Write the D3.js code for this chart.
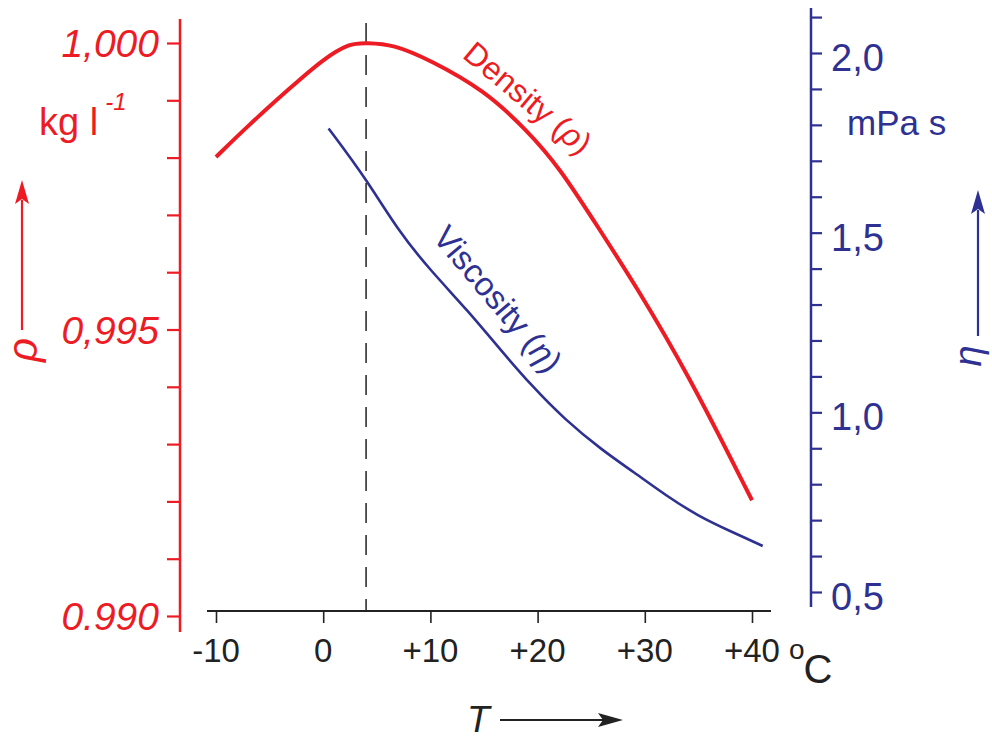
<!DOCTYPE html>
<html>
<head>
<meta charset="utf-8">
<script src="https://cdn.jsdelivr.net/npm/d3@7"></script>
<style>
  body { margin: 0; background: #fff; }
  svg { display: block; font-family: "Liberation Sans", Arial, sans-serif; }
</style>
</head>
<body>
<div id="chart"></div>
<script>
// temperature axis and the two curves
var tempTicks = [-10, 0, 10, 20, 30, 40];
var tempLabels = ["-10", "0", "+10", "+20", "+30", "+40"];

var densityT = [-10, -7, -3, 0, 2.5, 4, 6.5, 10, 15, 19, 22, 26, 29, 34, 40];
var densityRho = [0.99801, 0.99856, 0.99923, 0.99972, 1.0, 1.0, 0.99998, 0.9997, 0.99918, 0.99848, 0.99784, 0.99668, 0.99581, 0.99424, 0.99202];

var viscT = [0.5, 4, 7, 10, 13.5, 16.5, 19.5, 22.5, 26, 29, 32, 35, 38, 41];
var viscEta = [1.79, 1.65, 1.505, 1.395, 1.283, 1.175, 1.072, 0.981, 0.895, 0.833, 0.768, 0.711, 0.669, 0.628];

var rhoLabelValues = [1.0, 0.995, 0.99];
var rhoLabels = ["1,000", "0,995", "0.990"];
var etaLabelValues = [2.0, 1.5, 1.0, 0.5];
var etaLabels = ["2,0", "1,5", "1,0", "0,5"];

var maxDensityT = 4;

var width = 992,
  height = 741;
var red = "#ed1c24",
  blue = "#2e3192",
  dark = "#222";

var svg = d3
  .select("#chart")
  .append("svg")
  .attr("width", width)
  .attr("height", height);

//scales, pixel ranges match the reference
var x = d3.scaleLinear().domain([-10, 40]).range([216, 752]);
var yRho = d3.scaleLinear().domain([0.99, 1.0]).range([616, 43]);
var yEta = d3.scaleLinear().domain([0.5, 2.0]).range([592, 53]);

//left density axis (red)
var leftAxis = d3
  .axisLeft(yRho)
  .tickValues(d3.range(0, 11).map(function(i) { return 0.99 + i * 0.001; }))
  .tickSize(13)
  .tickSizeOuter(0)
  .tickFormat("");
var gLeft = svg.append("g").attr("transform", "translate(180,0)").call(leftAxis);
gLeft.select(".domain").remove();
gLeft.selectAll("line").attr("stroke", red).attr("stroke-width", 2.2);
gLeft.append("line")
  .attr("y1", 19).attr("y2", 632)
  .attr("stroke", red).attr("stroke-width", 2.5);

svg.selectAll("text.rho-label")
  .data(rhoLabelValues)
  .enter()
  .append("text")
  .attr("class", "rho-label")
  .attr("x", 159)
  .attr("y", function(d) { return yRho(d) + 14; })
  .attr("text-anchor", "end")
  .attr("font-size", 39)
  .attr("font-style", "italic")
  .attr("fill", red)
  .text(function(d, i) { return rhoLabels[i]; });

//unit kg l-1
var unitLeft = svg.append("text")
  .attr("x", 39).attr("y", 135)
  .attr("font-size", 38)
  .attr("fill", red);
unitLeft.append("tspan").text("kg l");
unitLeft.append("tspan")
  .attr("dx", 7).attr("dy", -25)
  .attr("font-size", 24)
  .attr("font-style", "italic")
  .text("-1");

//right viscosity axis (blue)
var rightAxis = d3
  .axisRight(yEta)
  .tickValues(d3.range(0, 17).map(function(i) { return 0.5 + i * 0.1; }))
  .tickSize(11)
  .tickSizeOuter(0)
  .tickFormat("");
var gRight = svg.append("g").attr("transform", "translate(811,0)").call(rightAxis);
gRight.select(".domain").remove();
gRight.selectAll("line").attr("stroke", blue).attr("stroke-width", 2.2);
gRight.append("line")
  .attr("y1", 8).attr("y2", 607)
  .attr("stroke", blue).attr("stroke-width", 2.5);

svg.selectAll("text.eta-label")
  .data(etaLabelValues)
  .enter()
  .append("text")
  .attr("class", "eta-label")
  .attr("x", 831)
  .attr("y", function(d) { return yEta(d) + 18; })
  .attr("font-size", 38)
  .attr("fill", blue)
  .text(function(d, i) { return etaLabels[i]; });

svg.append("text")
  .attr("x", 847).attr("y", 135)
  .attr("font-size", 35)
  .attr("fill", blue)
  .text("mPa s");

//temperature axis
var bottomAxis = d3
  .axisBottom(x)
  .tickValues(tempTicks)
  .tickSize(12)
  .tickSizeOuter(0)
  .tickFormat("");
var gBottom = svg.append("g").attr("transform", "translate(0,611)").call(bottomAxis);
gBottom.select(".domain").remove();
gBottom.selectAll("line").attr("stroke", dark).attr("stroke-width", 1.6);
gBottom.append("line")
  .attr("x1", 207).attr("x2", 771)
  .attr("stroke", dark).attr("stroke-width", 2.2);

svg.selectAll("text.t-label")
  .data(tempTicks)
  .enter()
  .append("text")
  .attr("class", "t-label")
  .attr("x", function(d) { return x(d); })
  .attr("y", 662)
  .attr("text-anchor", "middle")
  .attr("font-size", 33)
  .attr("fill", dark)
  .text(function(d, i) { return tempLabels[i]; });

//unit: small raised o next to the C, one text element
var unitT = svg.append("text")
  .attr("x", 789).attr("y", 659)
  .attr("fill", dark);
unitT.append("tspan").attr("font-size", 28).text("o");
unitT.append("tspan").attr("font-size", 40).attr("dx", -1).attr("dy", 24).text("C");

//dashed line at the density maximum
svg.append("line")
  .attr("x1", x(maxDensityT)).attr("x2", x(maxDensityT))
  .attr("y1", 23).attr("y2", 611)
  .attr("stroke", dark)
  .attr("stroke-width", 1.5)
  .attr("stroke-dasharray", "20,12");

//curves
var densityLine = d3.line()
  .x(function(d) { return x(d[0]); })
  .y(function(d) { return yRho(d[1]); })
  .curve(d3.curveBasis);
var viscLine = d3.line()
  .x(function(d) { return x(d[0]); })
  .y(function(d) { return yEta(d[1]); })
  .curve(d3.curveBasis);

svg.append("path")
  .datum(d3.zip(densityT, densityRho))
  .attr("d", densityLine)
  .attr("fill", "none")
  .attr("stroke", red)
  .attr("stroke-width", 4);

svg.append("path")
  .datum(d3.zip(viscT, viscEta))
  .attr("d", viscLine)
  .attr("fill", "none")
  .attr("stroke", blue)
  .attr("stroke-width", 2.6);

//curve labels
var dLabel = svg.append("text")
  .attr("transform", "translate(528,98) rotate(40)")
  .attr("text-anchor", "middle")
  .attr("dy", "0.35em")
  .attr("font-size", 32)
  .attr("fill", red);
dLabel.append("tspan").text("Density (");
dLabel.append("tspan").attr("font-style", "italic").text("ρ");
dLabel.append("tspan").text(")");

var vLabel = svg.append("text")
  .attr("transform", "translate(498,299) rotate(50)")
  .attr("text-anchor", "middle")
  .attr("dy", "0.35em")
  .attr("font-size", 33)
  .attr("fill", blue);
vLabel.append("tspan").text("Viscosity (");
vLabel.append("tspan").attr("font-style", "italic").text("η");
vLabel.append("tspan").text(")");

//axis name arrows
function arrowUp(cx, yTop, yBottom, color) {
  svg.append("line")
    .attr("x1", cx).attr("x2", cx)
    .attr("y1", yTop + 20).attr("y2", yBottom)
    .attr("stroke", color).attr("stroke-width", 2.2);
  svg.append("path")
    .attr("d", "M" + cx + "," + yTop + "L" + (cx + 7) + "," + (yTop + 24) + "L" + cx + "," + (yTop + 19) + "L" + (cx - 7) + "," + (yTop + 24) + "Z")
    .attr("fill", color);
}
arrowUp(22, 180, 330, red);
arrowUp(978, 190, 336, blue);

svg.append("text")
  .attr("transform", "translate(37,350) rotate(-90)")
  .attr("text-anchor", "middle")
  .attr("font-size", 42)
  .attr("font-style", "italic")
  .attr("fill", red)
  .text("ρ");
svg.append("text")
  .attr("transform", "translate(981,356) rotate(-90)")
  .attr("text-anchor", "middle")
  .attr("font-size", 38)
  .attr("font-style", "italic")
  .attr("fill", blue)
  .text("η");

//T arrow
svg.append("text")
  .attr("x", 467).attr("y", 732)
  .attr("font-size", 37)
  .attr("font-style", "italic")
  .attr("fill", dark)
  .text("T");
svg.append("line")
  .attr("x1", 500).attr("x2", 605)
  .attr("y1", 720).attr("y2", 720)
  .attr("stroke", dark).attr("stroke-width", 2);
svg.append("path")
  .attr("d", "M623,720L598,713L603,720L598,727Z")
  .attr("fill", dark);
</script>
</body>
</html>
